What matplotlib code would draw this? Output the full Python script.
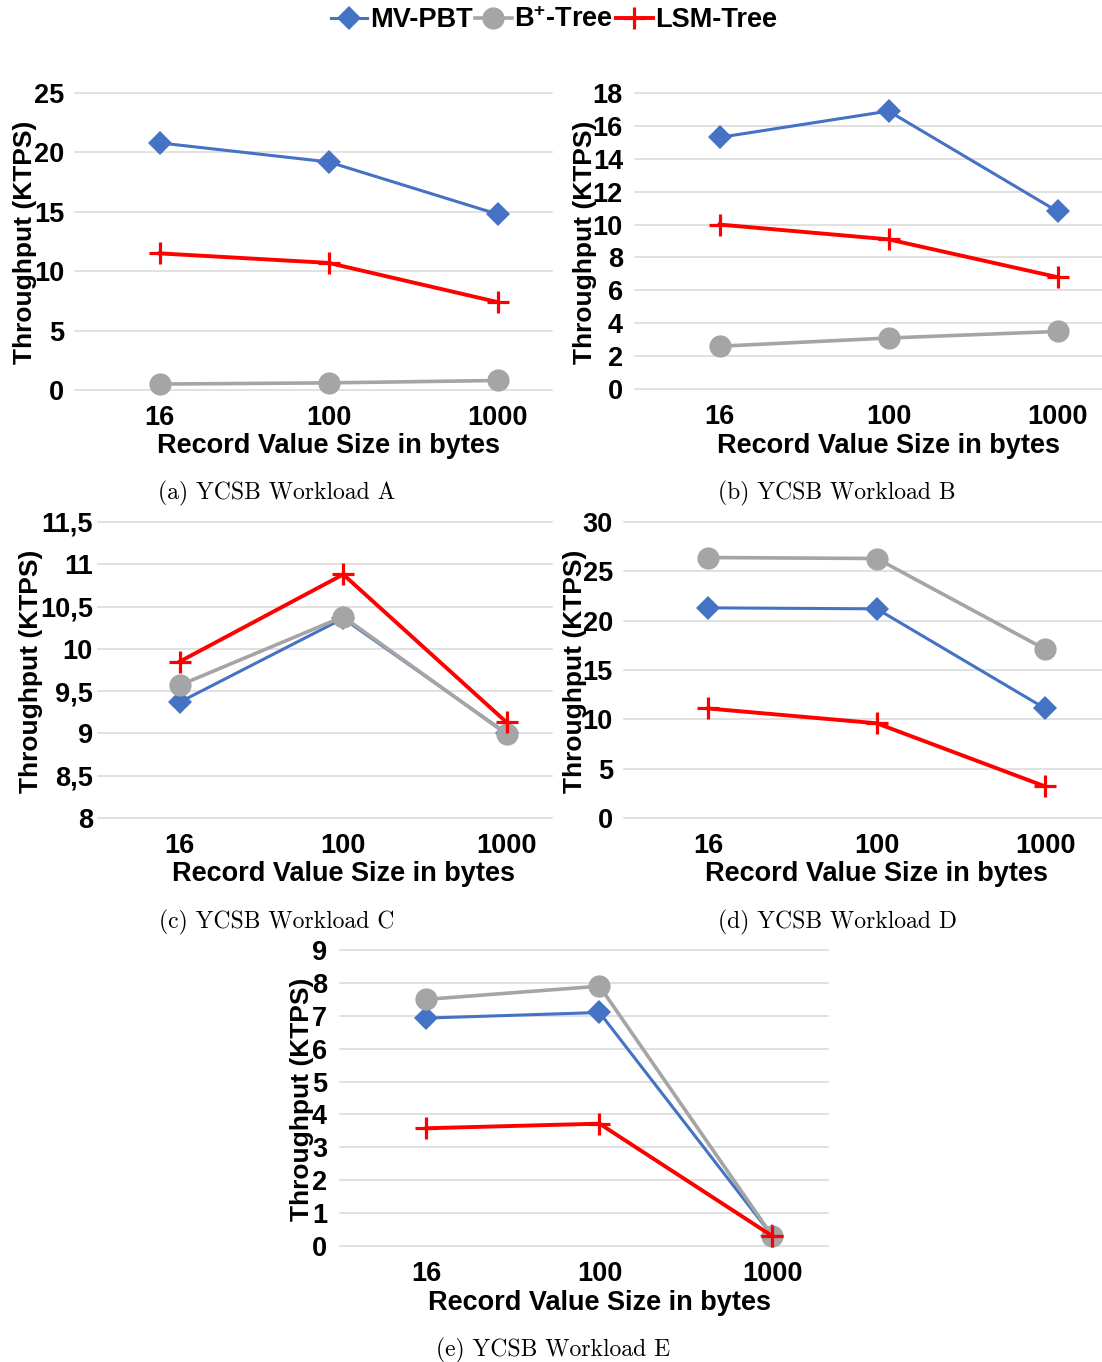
import matplotlib
matplotlib.use("Agg")
import matplotlib.pyplot as plt
from matplotlib.lines import Line2D

# ---------------- data ----------------
sizes = ["16", "100", "1000"]
series_names = ["MV-PBT", r"B$^{\mathbf{+}}$-Tree", "LSM-Tree"]

mvpbt_a = [20.8, 19.2, 14.8]
bptree_a = [0.5, 0.6, 0.8]
lsm_a = [11.5, 10.7, 7.4]

mvpbt_b = [15.3, 16.9, 10.8]
bptree_b = [2.6, 3.1, 3.5]
lsm_b = [10.0, 9.1, 6.8]

mvpbt_c = [9.37, 10.36, 9.0]
bptree_c = [9.57, 10.38, 8.99]
lsm_c = [9.85, 10.88, 9.13]

mvpbt_d = [21.3, 21.2, 11.1]
bptree_d = [26.4, 26.3, 17.1]
lsm_d = [11.1, 9.6, 3.2]

mvpbt_e = [6.93, 7.1, 0.3]
bptree_e = [7.5, 7.9, 0.3]
lsm_e = [3.58, 3.72, 0.3]

yticks_a = [0, 5, 10, 15, 20, 25]
yticks_b = [0, 2, 4, 6, 8, 10, 12, 14, 16, 18]
yticks_c = [8, 8.5, 9, 9.5, 10, 10.5, 11, 11.5]
yticks_d = [0, 5, 10, 15, 20, 25, 30]
yticks_e = [0, 1, 2, 3, 4, 5, 6, 7, 8, 9]

captions = ["(a) YCSB Workload A", "(b) YCSB Workload B", "(c) YCSB Workload C",
            "(d) YCSB Workload D", "(e) YCSB Workload E"]

x_label = "Record Value Size in bytes"
y_label = "Throughput (KTPS)"

# ---------------- style ----------------
W, H = 1102, 1362
DPI = 100
plt.rcParams["font.family"] = ["Liberation Sans", "DejaVu Sans"]
plt.rcParams["font.weight"] = "bold"
plt.rcParams["mathtext.fontset"] = "custom"
plt.rcParams["mathtext.rm"] = "Liberation Sans:bold"
plt.rcParams["mathtext.bf"] = "Liberation Sans:bold"

BLUE = "#4472C4"
GRAY = "#A5A5A5"
RED = "#FF0000"
GRID = "#D9D9D9"

styles = [
    dict(color=BLUE, lw=2.2, marker="D", ms=12.5, mew=0),
    dict(color=GRAY, lw=2.6, marker="o", ms=16, mew=0),
    dict(color=RED, lw=2.8, marker="+", ms=16, mew=2.3),
]

TICK_FS = 19.5
XLABEL_FS = 19.5
YLABEL_FS = 19
CAP_FS = 17
LEGEND_FS = 19.5

fig = plt.figure(figsize=(W / DPI, H / DPI), dpi=DPI)
fig.patch.set_facecolor("white")


def fmt(v):
    s = ("%g" % v)
    return s.replace(".", ",")


# panel layout in pixels: left, top, right, bottom, x upper limit,
# y tick pad, y-label x, x-label y, caption centre
panels = [
    dict(box=(75, 93, 552, 390), xmax=2.322, ypad=11, ylx=25, xly=446, cap=(277, 493),
         series=(mvpbt_a, bptree_a, lsm_a), yticks=yticks_a),
    dict(box=(635, 93, 1102, 389), xmax=2.263, ypad=12, ylx=585, xly=446, cap=(837, 493),
         series=(mvpbt_b, bptree_b, lsm_b), yticks=yticks_b),
    dict(box=(98, 522, 552, 818), xmax=2.277, ypad=5, ylx=31, xly=874, cap=(277, 922),
         series=(mvpbt_c, bptree_c, lsm_c), yticks=yticks_c),
    dict(box=(624, 522, 1102, 818), xmax=2.337, ypad=11, ylx=575, xly=874, cap=(837, 922),
         series=(mvpbt_d, bptree_d, lsm_d), yticks=yticks_d),
    dict(box=(340, 950, 828, 1246), xmax=2.321, ypad=13, ylx=302, xly=1303, cap=(553, 1350),
         series=(mvpbt_e, bptree_e, lsm_e), yticks=yticks_e),
]

PT = 72.0 / DPI  # points per pixel

for i, p in enumerate(panels):
    l, t, r, b = p["box"]
    ax = fig.add_axes([l / W, 1 - b / H, (r - l) / W, (b - t) / H])
    xs = list(range(len(sizes)))
    for vals, st in zip(p["series"], styles):
        ax.plot(xs, vals, color=st["color"], lw=st["lw"], marker=st["marker"],
                ms=st["ms"], mew=st["mew"], mec=st["color"], mfc=st["color"],
                clip_on=False, solid_joinstyle="round")
    ax.set_xlim(-0.5, p["xmax"])
    yt = p["yticks"]
    ax.set_ylim(yt[0], yt[-1])
    ax.set_yticks(yt, [fmt(v) for v in yt])
    ax.set_xticks(xs, sizes)
    ax.tick_params(axis="both", length=0, labelsize=TICK_FS)
    ax.tick_params(axis="y", pad=p["ypad"] * PT)
    ax.tick_params(axis="x", pad=15 * PT)
    for lab in ax.get_xticklabels() + ax.get_yticklabels():
        lab.set_fontweight("bold")
    ax.yaxis.grid(True, color=GRID, lw=1.1)
    for gl in ax.get_ygridlines():
        gl.set_clip_on(False)
    ax.set_axisbelow(True)
    for s in ax.spines.values():
        s.set_visible(False)
    ax.set_facecolor("none")

    # axis titles and caption
    cx = l + (0.5 + 1) * (r - l) / (p["xmax"] + 0.5)
    fig.text(cx / W, 1 - p["xly"] / H, x_label, ha="center", va="center",
             fontsize=XLABEL_FS, fontweight="bold")
    fig.text(p["ylx"] / W, 1 - ((t + b) / 2 + 1) / H, y_label, rotation=90,
             ha="center", va="center", fontsize=YLABEL_FS, fontweight="bold")
    fig.text(p["cap"][0] / W, 1 - p["cap"][1] / H, captions[i], ha="center",
             va="center", fontsize=CAP_FS, fontweight="normal", family="cmr10")

# shared legend
handles = [Line2D([], [], color=st["color"], lw=st["lw"], marker=st["marker"],
                  ms=st["ms"], mew=st["mew"], mec=st["color"], mfc=st["color"])
           for st in styles]
fig.legend(handles, series_names, loc="center", bbox_to_anchor=(554 / W, 1 - 20 / H),
           ncol=3, frameon=False, handlelength=1.35, handletextpad=0.1,
           columnspacing=0.1, prop=dict(size=LEGEND_FS, weight="bold"))

fig.savefig("out.png", dpi=DPI, facecolor="white")
